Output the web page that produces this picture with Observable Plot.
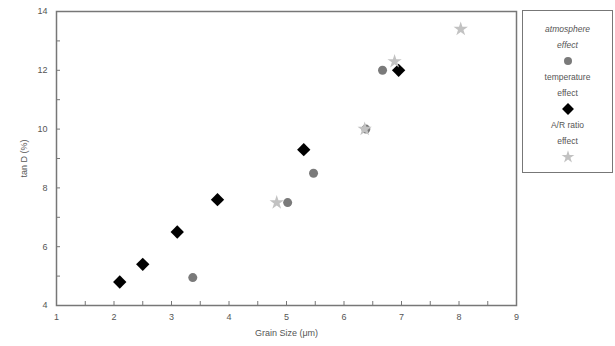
<!DOCTYPE html>
<html>
<head>
<meta charset="utf-8">
<script src="https://cdn.jsdelivr.net/npm/d3@7"></script>
<script src="https://cdn.jsdelivr.net/npm/@observablehq/plot@0.6"></script>
<style>
  html, body { margin: 0; padding: 0; background: #fff; }
  #wrap { position: relative; width: 615px; height: 346px; font-family: "Liberation Sans", Arial, sans-serif; }
  #legend { position: absolute; left: 522px; top: 10px; width: 91px; height: 163px; border: 1.5px solid #777; box-sizing: border-box;
            display: flex; flex-direction: column; align-items: center; padding-top: 10px; font-size: 8.5px; color: #555; }
  #legend div { height: 16px; line-height: 16px; text-align: center; }
  #legend .it { font-style: italic; }
</style>
</head>
<body>
<div id="wrap"><div id="chart"></div><div id="legend"></div></div>
<script>
// Atmosphere effect (gray circles)
const atmX = [3.37, 5.02, 5.47, 6.67, 6.38];
const atmY = [4.95, 7.5, 8.5, 12.0, 10.0];
// Temperature effect (black diamonds)
const tempX = [2.1, 2.5, 3.1, 3.8, 5.3, 6.95];
const tempY = [4.8, 5.4, 6.5, 7.6, 9.3, 12.0];
// A/R ratio effect (light gray stars)
const arX = [4.83, 6.36, 6.88, 8.03];
const arY = [7.5, 10.0, 12.3, 13.4];

const xTicks = d3.range(1, 9.001, 0.5);
const yTicks = d3.range(4, 14.001, 1);

const series = [
  {lines: ["atmosphere", "effect"], italic: true, xs: atmX, ys: atmY, symbol: "circle", fill: "#7a7a7a", r: 4.5},
  {lines: ["temperature", "effect"], italic: false, xs: tempX, ys: tempY, symbol: "diamond2", fill: "#000", r: 6},
  {lines: ["A/R ratio", "effect"], italic: false, xs: arX, ys: arY, symbol: "star", fill: "#c2c2c2", r: 4.5}
];

const marks = [];
for (const s of series) {
  const data = s.xs.map((x, i) => ({x, y: s.ys[i]}));
  marks.push(Plot.dot(data, {x: "x", y: "y", symbol: () => s.symbol, fill: s.fill, stroke: "none", r: s.r}));
}

const chart = Plot.plot({
  width: 615,
  height: 346,
  marginLeft: 56,
  marginRight: 99,
  marginTop: 11,
  marginBottom: 41,
  style: {fontFamily: "Liberation Sans, Arial, sans-serif", fontSize: "9px", color: "#555", background: "#fff"},
  x: {domain: [1, 9]},
  y: {domain: [4, 14]},
  symbol: {type: "identity"},
  marks: [
    Plot.axisX({ticks: xTicks, tickSize: -4, tickPadding: 12, tickFormat: d => Number.isInteger(d) ? d : "",
      label: "Grain Size (μm)", labelAnchor: "center", labelOffset: 30, labelArrow: "none", stroke: "#777", fill: "#555"}),
    Plot.axisY({ticks: yTicks, tickSize: -4, tickPadding: 13, tickFormat: d => d % 2 === 0 ? d : "",
      label: "tan D (%)", labelAnchor: "center", labelOffset: 36, labelArrow: "none", stroke: "#777", fill: "#555"}),
    Plot.frame({stroke: "#777", strokeWidth: 1.5}),
    ...marks
  ]
});
document.getElementById("chart").appendChild(chart);

// legend
const leg = d3.select("#legend");
const symMap = {circle: d3.symbolCircle, diamond2: d3.symbolDiamond2, star: d3.symbolStar};
for (const s of series) {
  for (const line of s.lines) leg.append("div").attr("class", s.italic ? "it" : null).text(line);
  const svg = leg.append("div").append("svg").attr("width", 16).attr("height", 16);
  svg.append("path").attr("transform", "translate(8,8)")
    .attr("d", d3.symbol(symMap[s.symbol], s.r * s.r * Math.PI * 0.8)())
    .attr("fill", s.fill);
}
</script>
</body>
</html>
